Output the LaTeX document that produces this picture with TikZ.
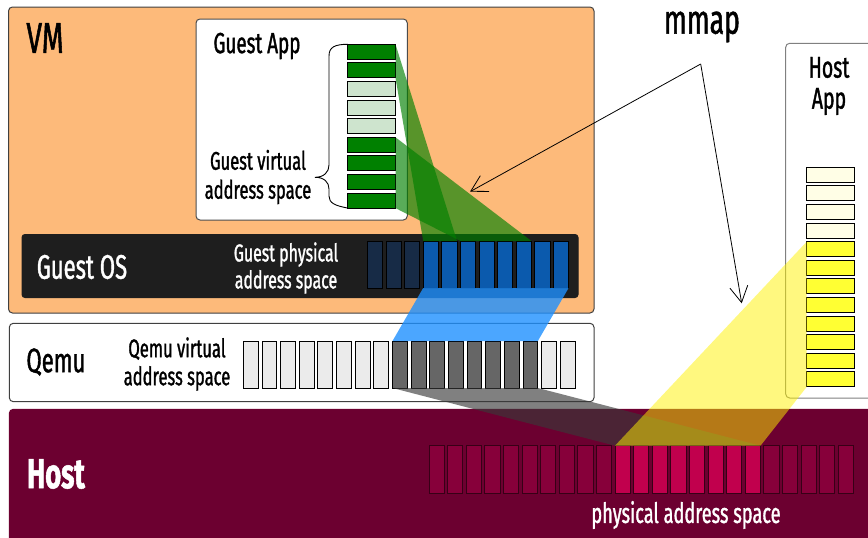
\documentclass[tikz,border=0pt]{standalone}
\usepackage{fontspec}
\setmainfont{Fira Sans}[FakeStretch=0.65,FakeBold=1.2]
\usetikzlibrary{arrows.meta}
\definecolor{vmorange}{RGB}{253,186,122}
\definecolor{osblack}{RGB}{30,30,30}
\definecolor{navycell}{RGB}{23,43,70}
\definecolor{bluecell}{RGB}{11,90,173}
\definecolor{gdark}{RGB}{0,128,0}
\definecolor{glight}{RGB}{206,228,206}
\definecolor{qlight}{RGB}{235,235,235}
\definecolor{qdark}{RGB}{102,102,102}
\definecolor{hostbg}{RGB}{108,0,48}
\definecolor{hdark}{RGB}{135,0,58}
\definecolor{hbright}{RGB}{193,0,77}
\definecolor{hborder}{RGB}{55,0,22}
\definecolor{ypale}{RGB}{255,254,230}
\definecolor{yfull}{RGB}{255,255,51}
\definecolor{mapblue}{RGB}{30,144,255}
\definecolor{mapgray}{RGB}{57,57,57}
\begin{document}
\begin{tikzpicture}[x=1pt,y=-1pt,
  box/.style={draw=black!75,line width=1pt,rounded corners=4pt,inner sep=0pt,outer sep=0pt},
  cell/.style={draw=black,line width=0.9pt,inner sep=0pt,outer sep=0pt},
  hcell/.style={cell,draw=hborder,minimum width=15.3pt,minimum height=47.6pt},
  vcell/.style={cell,minimum width=15.2pt,minimum height=47pt},
  wcell/.style={cell,minimum width=47.6pt,minimum height=15pt},
  lbl/.style={inner sep=0pt,align=center},
  arr/.style={draw=black,line width=0.8pt,-{Straight Barb[length=16pt,width=18pt,line width=0.8pt]}}
]
\useasboundingbox (0,0) rectangle (868,538);
\clip (0,0) rectangle (868,538);
% VM
\node[box,fill=vmorange,minimum width=585.5pt,minimum height=306pt] (vm) at (301.25,160) {};
\node[lbl,font=\fontsize{43}{46}\selectfont] (vmlbl) at (45,38) {VM};
% Guest App
\node[box,fill=white,draw=black!70,minimum width=211.3pt,minimum height=201pt] (gapp) at (301.65,119.5) {};
\node[lbl,font=\fontsize{29}{32}\selectfont] (gapplbl) at (257,46) {Guest App};
\foreach \i/\c in {1/gdark,2/gdark,3/glight,4/glight,5/glight,6/gdark,7/gdark,8/gdark,9/gdark}
  \node[wcell,fill=\c] (g\i) at (371.7,{51.8+(\i-1)*18.6}) {};
\draw[line width=0.9pt] (g1.north west) .. controls (335,44.3) and (329,47) .. (329,56) -- (329,165)
   .. controls (329,172) and (324,177.3) .. (315,177.3)
   .. controls (324,177.3) and (329,182) .. (329,189) -- (329,196)
   .. controls (329,203) and (335,205.7) .. (g9.south west);
\node[lbl,font=\fontsize{25.5}{29}\selectfont] (gvlbl) at (258,177) {Guest virtual\\address space};
% Guest OS
\node[box,fill=osblack,draw=osblack,rounded corners=3pt,minimum width=556pt,minimum height=63pt] (gos) at (300,266) {};
\node[lbl,text=white,font=\fontsize{34}{38}\selectfont] (goslbl) at (82,267) {Guest OS};
\node[lbl,text=white,font=\fontsize{24.5}{27}\selectfont] (gplbl) at (286,268) {Guest physical\\address space};
\foreach \i/\c in {1/navycell,2/navycell,3/navycell,4/bluecell,5/bluecell,6/bluecell,7/bluecell,8/bluecell,9/bluecell,10/bluecell,11/bluecell}
  \node[vcell,fill=\c] (b\i) at ({375+(\i-1)*18.6},264.5) {};
% green mappings
\fill[gdark,opacity=0.65] (g1.north east) -- (b5.north east) -- (b4.north west) -- (g2.south east) -- cycle;
\fill[gdark,opacity=0.65] (g6.north east) -- (b9.north east) -- (b6.north west) -- (g9.south east) -- cycle;
% Qemu
\node[box,fill=white,minimum width=584.7pt,minimum height=78.4pt] (qemu) at (301.65,362.5) {};
\node[lbl,font=\fontsize{34}{38}\selectfont] (qemulbl) at (56,362) {Qemu};
\node[lbl,font=\fontsize{25.5}{28}\selectfont] (qvlbl) at (177,364) {Qemu virtual\\address space};
\foreach \i/\c in {1/qlight,2/qlight,3/qlight,4/qlight,5/qlight,6/qlight,7/qlight,8/qlight,9/qdark,10/qdark,11/qdark,12/qdark,13/qdark,14/qdark,15/qdark,16/qdark,17/qlight,18/qlight}
  \node[cell,fill=\c,minimum width=14.8pt,minimum height=47pt] (q\i) at ({250.7+(\i-1)*18.65},364.5) {};
% blue mapping
\fill[mapblue,opacity=0.8] (b4.south west) -- (b11.south east) -- (q16.north east) -- (q9.north west) -- cycle;
% Host
\node[box,fill=hostbg,draw=hostbg,minimum width=870.7pt,minimum height=140.7pt] (host) at (444.65,479.65) {};
\node[lbl,text=white,font=\bfseries\fontsize{42}{46}\selectfont] (hostlbl) at (56,474) {Host};
\node[lbl,text=white,font=\fontsize{28}{32}\selectfont] (pslbl) at (686,515) {physical address space};
\foreach \i in {1,...,23}{
  \ifnum\i<11 \def\hc{hdark}\else\ifnum\i>18 \def\hc{hdark}\else\def\hc{hbright}\fi\fi
  \node[hcell,fill=\hc] (h\i) at ({436.65+(\i-1)*18.6},469.5) {};
}
% Host App
\node[box,fill=white,draw=black!50,minimum width=94.3pt,minimum height=354.7pt] (happ) at (832.85,220.65) {};
\node[lbl,font=\fontsize{30}{31}\selectfont] (happlbl) at (829,86) {Host\\App};
\foreach \i/\c in {1/ypale,2/ypale,3/ypale,4/ypale,5/yfull,6/yfull,7/yfull,8/yfull,9/yfull,10/yfull,11/yfull,12/yfull}
  \node[wcell,fill=\c] (y\i) at (830.5,{174.8+(\i-1)*18.6}) {};
% gray and yellow mappings
\fill[mapgray,opacity=0.64] (q9.south west) -- (q16.south east) -- (h18.north east) -- (h11.north west) -- cycle;
\fill[yellow,opacity=0.5] (y5.north west) -- (h11.north west) -- (h18.north east) -- (y12.south west) -- cycle;
% mmap
\node[lbl,font=\fontsize{41}{44}\selectfont] (mmaplbl) at (702,27) {mmap};
\coordinate (fork) at (700.7,64);
\coordinate (tipA) at (470,191.7);
\coordinate (tipB) at (741.7,303.3);
\draw[arr] (fork) -- (tipA);
\draw[arr] (fork) -- (tipB);
\end{tikzpicture}
\end{document}
